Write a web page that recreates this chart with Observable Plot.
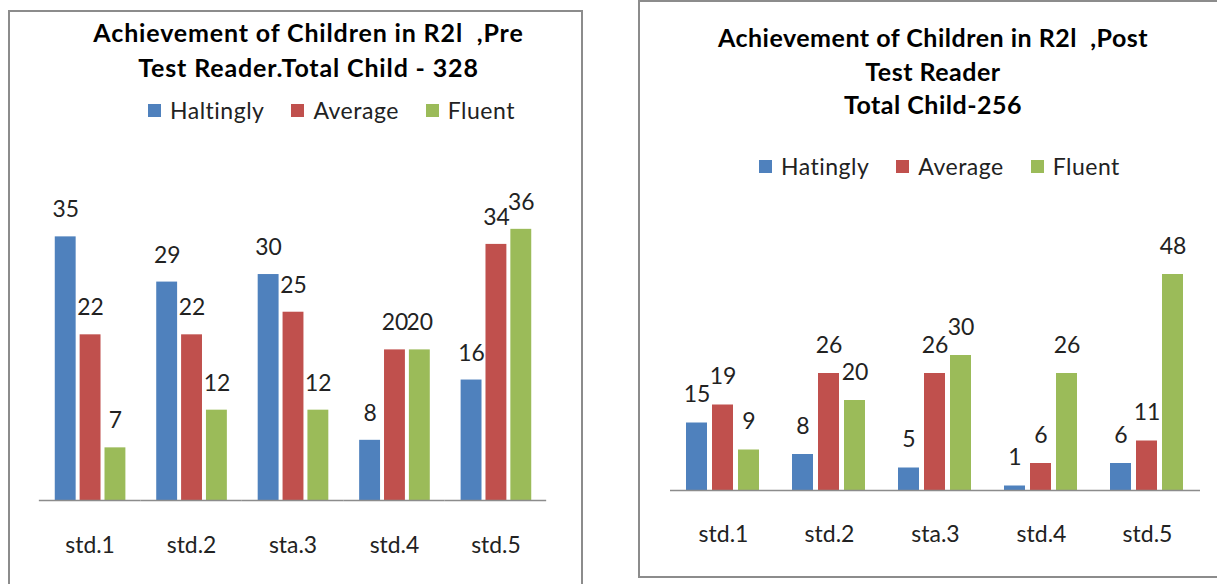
<!DOCTYPE html>
<html>
<head>
<meta charset="utf-8">
<script src="https://cdn.jsdelivr.net/npm/d3@7"></script>
<script src="https://cdn.jsdelivr.net/npm/@observablehq/plot@0.6"></script>
<style>
  html, body { margin: 0; padding: 0; background: #fff; overflow: hidden; width: 1217px; height: 584px; }
  body { position: relative; font-family: Lato, "Open Sans", sans-serif; }
  .box { position: absolute; border: 2px solid #8c8c8c; box-sizing: border-box; background: #fff; }
  .title { position: absolute; text-align: center; font-weight: bold; font-size: 25px; line-height: 30px; color: #000; white-space: pre; }
  .legend { position: absolute; display: flex; align-items: center; font-size: 23px; line-height: 28px; letter-spacing: 0.5px; color: #222; white-space: nowrap; }
  .legend .sw { display: inline-block; width: 13px; height: 13px; margin-right: 9px; }
  .legend .item { display: inline-flex; align-items: center; margin-right: 27px; }
  .chart { position: absolute; }
</style>
</head>
<body>
<script>
// ---- data ----
const categories = ["std.1", "std.2", "sta.3", "std.4", "std.5"];
const preSeries = ["Haltingly", "Average", "Fluent"];
const preHaltingly = [35, 29, 30, 8, 16];
const preAverage = [22, 22, 25, 20, 34];
const preFluent = [7, 12, 12, 20, 36];
const postSeries = ["Hatingly", "Average", "Fluent"];
const postHatingly = [15, 8, 5, 1, 6];
const postAverage = [19, 26, 26, 6, 11];
const postFluent = [9, 20, 30, 26, 48];
const preTitle = ["Achievement of Children in R2l  ,Pre", "Test Reader.Total Child - 328"];
const postTitle = ["Achievement of Children in R2l  ,Post", "Test Reader", "Total Child-256"];
const seriesColors = ["#4F81BD", "#C0504D", "#9BBB59"];

function rowsFrom(series, valueLists) {
  const rows = [];
  categories.forEach((c, i) => {
    series.forEach((s, j) => rows.push({cat: c, series: s, value: valueLists[j][i]}));
  });
  return rows;
}

function build(cfg) {
  const box = document.createElement("div");
  box.className = "box";
  Object.assign(box.style, {left: cfg.box[0] + "px", top: cfg.box[1] + "px", width: cfg.box[2] + "px", height: cfg.box[3] + "px"});
  document.body.appendChild(box);

  cfg.title.forEach((t, i) => {
    const d = document.createElement("div");
    d.className = "title";
    d.textContent = t;
    d.style.top = (cfg.titleTop + i * cfg.titleStep) + "px";
    d.style.left = cfg.titleShift + "px";
    d.style.right = "0px";
    d.style.letterSpacing = cfg.titleLS + "px";
    box.appendChild(d);
  });

  const lg = document.createElement("div");
  lg.className = "legend";
  lg.style.left = cfg.legendLeft + "px";
  lg.style.top = cfg.legendTop + "px";
  cfg.series.forEach((s, i) => {
    const it = document.createElement("span");
    it.className = "item";
    const sw = document.createElement("span");
    sw.className = "sw";
    sw.style.background = seriesColors[i];
    it.appendChild(sw);
    it.appendChild(document.createTextNode(s));
    lg.appendChild(it);
  });
  box.appendChild(lg);

  const rows = rowsFrom(cfg.series, cfg.values);
  const chart = Plot.plot({
    width: cfg.width,
    height: cfg.height,
    marginTop: cfg.marginTop,
    marginBottom: cfg.marginBottom,
    marginLeft: cfg.marginLeft,
    marginRight: cfg.marginRight,
    style: {fontFamily: "Lato, 'Open Sans', sans-serif", background: "transparent", overflow: "visible"},
    fx: {domain: categories, padding: 0, label: null},
    x: {domain: cfg.series, paddingInner: cfg.padIn, paddingOuter: cfg.padOut, axis: null},
    y: {domain: [0, cfg.yMax], axis: null},
    color: {domain: cfg.series, range: seriesColors},
    marks: [
      Plot.barY(rows, {fx: "cat", x: "series", y: "value", fill: "series"}),
      Plot.text(rows, {fx: "cat", x: "series", y: "value", text: d => String(d.value), dy: cfg.labelDy, fontSize: 23, fill: "#222"}),
      Plot.ruleY([0], {stroke: "#8c8c8c", strokeWidth: 1.5}),
      Plot.axisFx({anchor: "bottom", tickSize: 0, tickPadding: cfg.tickPad, fontSize: 23, fill: "#222", label: null})
    ]
  });
  chart.classList.add("chart");
  chart.style.left = cfg.svgPos[0] + "px";
  chart.style.top = cfg.svgPos[1] + "px";
  box.appendChild(chart);
}

build({
  box: [8, 10, 575, 576],
  title: preTitle, titleTop: 5, titleStep: 35, titleShift: 26, titleLS: 0.85,
  series: preSeries, legendLeft: 138, legendTop: 84,
  values: [preHaltingly, preAverage, preFluent],
  svgPos: [-2, 128], width: 574, height: 440,
  marginTop: 59, marginBottom: 78, marginLeft: 29, marginRight: 31,
  padIn: 0.18, padOut: 0.606, yMax: 40, labelDy: -27, tickPad: 36
});

build({
  box: [638, 0, 590, 578],
  title: postTitle, titleTop: 20, titleStep: 33.5, titleShift: 0, titleLS: 0.5,
  series: postSeries, legendLeft: 119, legendTop: 150,
  values: [postHatingly, postAverage, postFluent],
  svgPos: [-2, 178], width: 580, height: 397,
  marginTop: 85, marginBottom: 87, marginLeft: 30, marginRight: 17,
  padIn: 0.185, padOut: 0.567, yMax: 50, labelDy: -28, tickPad: 35
});
</script>
</body>
</html>
